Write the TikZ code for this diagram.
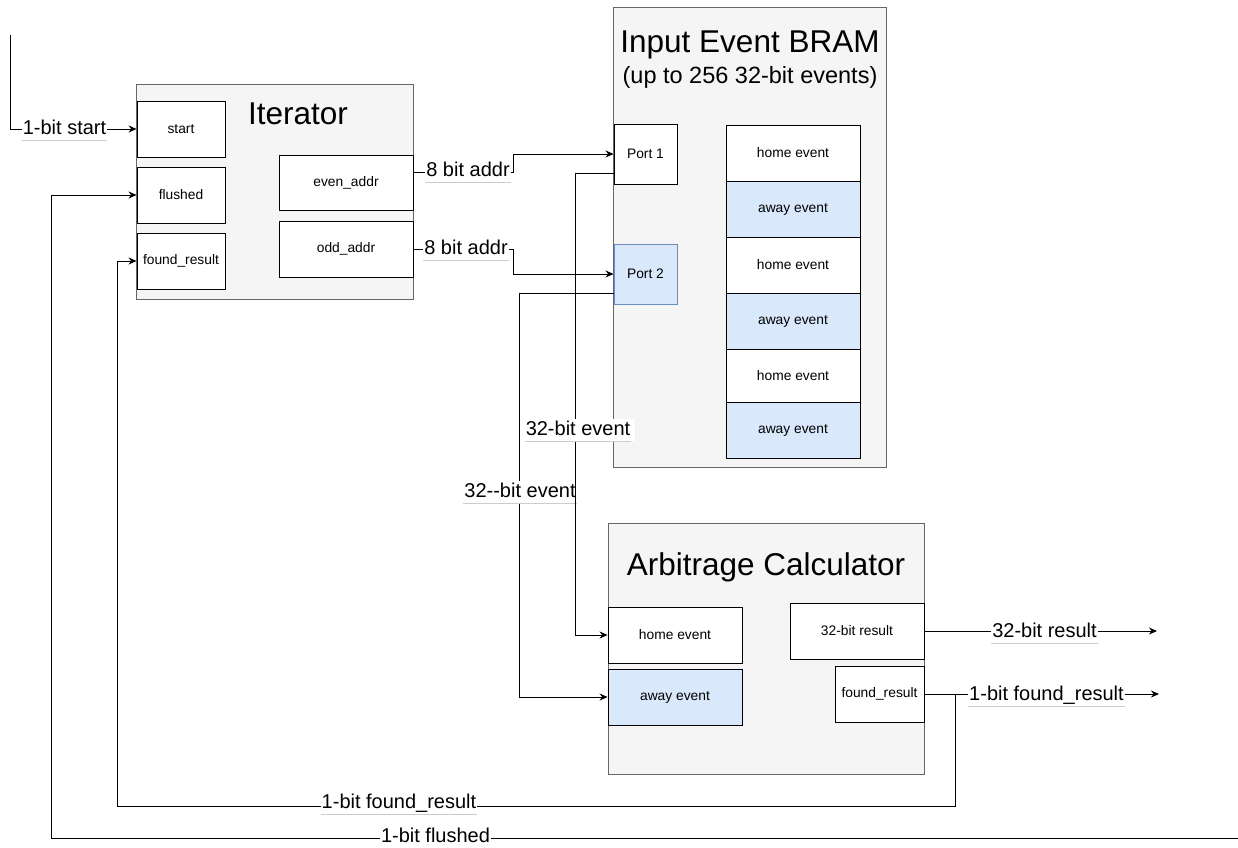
\documentclass[tikz,border=0pt]{standalone}
\usepackage{fontspec}
\setmainfont{Liberation Sans}
\usetikzlibrary{arrows.meta,calc}
\definecolor{cfill}{HTML}{F5F5F5}
\definecolor{cbord}{HTML}{666666}
\definecolor{bfill}{HTML}{DAE8FC}
\definecolor{bbord}{HTML}{6C8EBF}
\begin{document}
\begin{tikzpicture}[x=1pt,y=-1pt,
 container/.style={draw=cbord, fill=cfill, line width=1pt, inner sep=0pt},
 box/.style={draw=black, fill=white, line width=0.9pt, minimum width=134pt, minimum height=56pt, inner sep=0pt, font=\fontsize{13.8}{16}\selectfont},
 smallbox/.style={box, minimum width=88pt},
 bluebox/.style={box, fill=bfill},
 title/.style={font=\fontsize{31.5}{36}\selectfont},
 subtitle/.style={font=\fontsize{23.5}{28}\selectfont},
 elab/.style={fill=white, inner xsep=1pt, inner ysep=2pt, text height=14pt, text depth=4pt, font=\fontsize{20}{22}\selectfont},
 wire/.style={draw=black, line width=1pt},
 arr/.style={wire, -{Stealth[length=8pt,width=7pt]}},
 uline/.style={draw=gray!40, line width=0.8pt}
]
\useasboundingbox (0,0) rectangle (1238,847);

% ---------- Iterator ----------
\node[container, minimum width=277pt, minimum height=215pt] (iter) at (274.5,191.5) {};
\node[title] (itertitle) at (298,114) {Iterator};
\node[smallbox] (start) at (181,129) {start};
\node[smallbox] (flushed) at (181,195) {flushed};
\node[smallbox] (found) at (181,261) {found\_result};
\node[box, minimum height=55pt] (even) at (346,182.5) {even\_addr};
\node[box] (odd) at (346,249) {odd\_addr};

% ---------- Input Event BRAM ----------
\node[container, minimum width=273pt, minimum height=460pt] (bram) at (749.5,237) {};
\node[title] (bramtitle) at (750,45) {Input Event BRAM};
\node[subtitle] (bramsub) at (750,77) {(up to 256 32-bit events)};
\node[box, minimum width=63pt, minimum height=60pt] (port1) at (645.5,154) {Port 1};
\node[bluebox, draw=bbord, minimum width=63pt, minimum height=60pt] (port2) at (645.5,274) {Port 2};
\node[box] (h1) at (793,153) {home event};
\node[bluebox] (a1) at (793,209) {away event};
\node[box] (h2) at (793,265) {home event};
\node[bluebox] (a2) at (793,321) {away event};
\node[box, minimum height=53pt] (h3) at (793,375.5) {home event};
\node[bluebox] (a3) at (793,430) {away event};

% ---------- Arbitrage Calculator ----------
\node[container, minimum width=316pt, minimum height=251pt] (arb) at (766,648.5) {};
\node[title] (arbtitle) at (766,567) {Arbitrage Calculator};
\node[box] (ahome) at (675,635) {home event};
\node[bluebox] (aaway) at (675,697) {away event};
\node[box] (res) at (857,631) {32-bit result};
\node[box, minimum width=89pt] (afound) at (879.5,694) {found\_result};

% ---------- connectors ----------
% start
\coordinate (s0) at (10,35);
\draw[arr] (s0) |- (start.west);
\node[elab] (lstart) at (64.5,129) {1-bit start};
\draw[uline] (lstart.south west) -- (lstart.south east);

% even_addr -> Port 1
\draw[arr] ([yshift=10pt]even.east) -- ++(100,0) |- (port1.west);
\node[elab] (leven) at (468,171.5) {8 bit addr};
\draw[uline] (leven.south west) -- (leven.south east);

% odd_addr -> Port 2
\draw[arr] (odd.east) -- ++(100,0) |- (port2.west);
\node[elab] (lodd) at (466,249) {8 bit addr};
\draw[uline] (lodd.south west) -- (lodd.south east);

% Port 2 -> away event
\draw[arr] ([yshift=-19pt]port2.west) -- ++(-94,0) |- (aaway.west);
\node[elab] (lev2) at (520,492) {32-{}-bit event};
\draw[uline] (lev2.south west) -- (lev2.south east);

% Port 1 -> home event
\draw[arr] ([yshift=-19pt]port1.west) -- ++(-38,0) |- (ahome.west);
\node[elab, inner xsep=5pt] (lev1) at (578,430) {32-bit event};
\draw[uline] ([xshift=4pt]lev1.south west) -- ([xshift=-4pt]lev1.south east);

% 32-bit result out
\coordinate (r1) at (1157,631);
\draw[arr] (res.east) -- (r1);
\node[elab] (lres) at (1044.5,632) {32-bit result};
\draw[uline] (lres.south west) -- (lres.south east);

% found_result out
\coordinate (fo) at (1159,694);
\draw[arr] (afound.east) -- (fo);
\node[elab] (lfo) at (1046.5,695) {1-bit found\_result};
\draw[uline] (lfo.south west) -- (lfo.south east);

% found_result feedback
\draw[arr] (afound.east) -- ++(31,0) -- ++(0,112) -| ($(found.west)+(-19,0)$) -- (found.west);
\node[elab] (lfb) at (399,803) {1-bit found\_result};
\draw[uline] (lfb.south west) -- (lfb.south east);

% flushed feedback
\coordinate (f0) at (1238,838);
\draw[arr] (f0) -| ($(flushed.west)+(-85,0)$) -- (flushed.west);
\node[elab] (lfl) at (435.5,837) {1-bit flushed};

\end{tikzpicture}
\end{document}
